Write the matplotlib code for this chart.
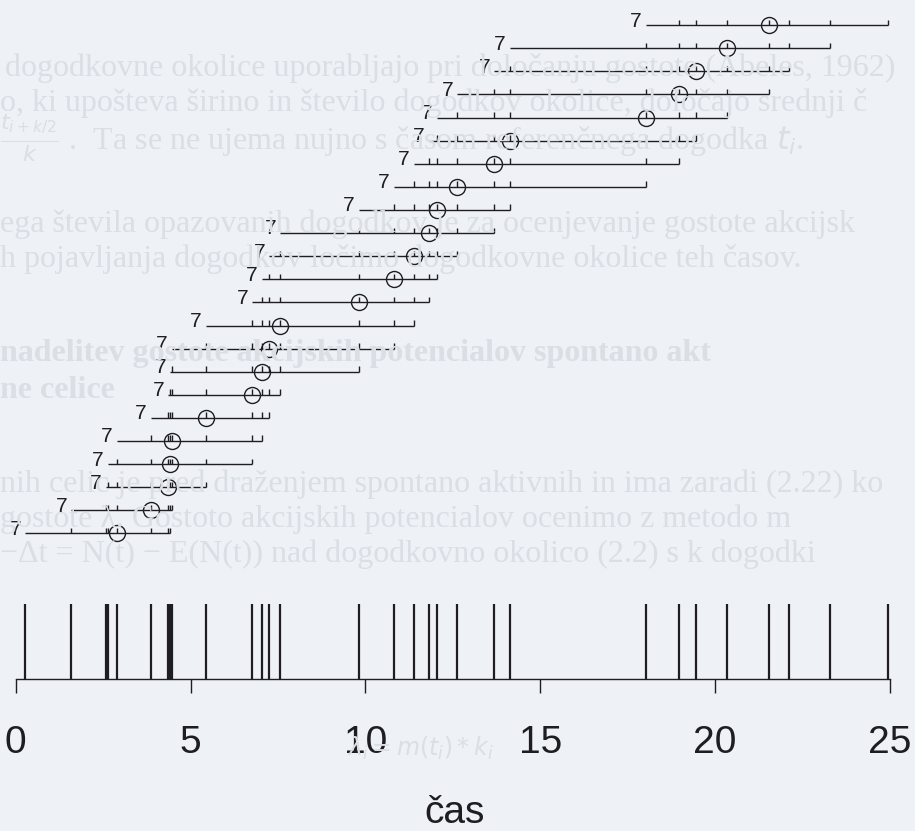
import matplotlib
matplotlib.use("Agg")
import matplotlib.pyplot as plt
import numpy as np

# spike times (s) and size of the event neighbourhood
cas = np.array([0.27, 1.59, 2.58, 2.63, 2.89, 3.87, 4.36, 4.42, 4.47, 5.44,
                6.77, 7.03, 7.25, 7.57, 9.82, 10.81, 11.39, 11.82, 12.04, 12.63,
                13.69, 14.14, 18.03, 18.96, 19.46, 20.34, 21.55, 22.13, 23.30, 24.95])
k = 7
x_ticks = [0, 5, 10, 15, 20, 25]

# faint page text that shows through the scan
ozadje = [
    (5, 68, "dogodkovne okolice uporabljajo pri določanju gostote (Abeles, 1962)", "normal"),
    (0, 103, "o, ki upošteva širino in število dogodkov okolice, določajo srednji č", "normal"),
    (0, 138, "$\\frac{t_{i+k/2}}{k}$ .  Ta se ne ujema nujno s časom referenčnega dogodka $t_i$.", "normal"),
    (0, 224, "ega števila opazovanih dogodkov je za ocenjevanje gostote akcijsk", "normal"),
    (0, 259, "h pojavljanja dogodkov ločimo dogodkovne okolice teh časov.", "normal"),
    (0, 353, "nadelitev gostote akcijskih potencialov spontano akt", "bold"),
    (0, 390, "ne celice", "bold"),
    (0, 484, "nih celic je pred draženjem spontano aktivnih in ima zaradi (2.22) ko", "normal"),
    (0, 519, "gostote λ. Gostoto akcijskih potencialov ocenimo z metodo m", "normal"),
    (0, 554, "−Δt = N(t) − E(N(t)) nad dogodkovno okolico (2.2) s k dogodki", "normal"),
]

bg = "#eef1f6"
ink = "#1e1e22"
ghost = "#dadee5"

W, H = 915, 831
fig = plt.figure(figsize=(W / 100, H / 100), dpi=100)
fig.patch.set_facecolor(bg)
ax = fig.add_axes([0, 0, 1, 1])
ax.set_facecolor(bg)
ax.set_xlim(-0.4505, 25.722)
ax.set_ylim(-8.88, 27.09)

for px, py, s, w in ozadje:
    fig.text(px / W, 1 - py / H, s, color=ghost, fontsize=23, fontweight=w,
             family="Liberation Serif", va="center", ha="left", zorder=0)
fig.text(420 / W, 1 - 748 / H, "$\\lambda_i = m(t_i) * k_i$", color=ghost,
         fontsize=17, va="center", ha="center", zorder=0)

# rug of all events sitting on the time axis
y_os = -2.31
ax.vlines(cas, y_os, 0.95, color=ink, lw=1.6)

# one row per event: neighbourhood of k events, circle on the reference event
lo, hi = (k + 1) // 2, k // 2
for i in range(lo, len(cas) - hi):
    ax.hlines(i, cas[i - lo], cas[i + hi], color=ink, lw=1.0)
    ax.vlines(cas[i - lo + 1:i + hi + 1], i, i + 0.24, color=ink, lw=1.0)
    ax.plot(cas[i], i, "o", mfc="none", mec=ink, ms=11.5, mew=1.0)
    ax.annotate(str(k), (cas[i - lo], i), xytext=(-3, -1), textcoords="offset points",
                ha="right", va="baseline", fontsize=15, color=ink,
                family="Liberation Sans")

for s in ["left", "right", "top"]:
    ax.spines[s].set_visible(False)
ax.spines["bottom"].set_position(("data", y_os))
ax.spines["bottom"].set_bounds(0, 25)
ax.spines["bottom"].set_color(ink)
ax.spines["bottom"].set_linewidth(1.0)
ax.set_yticks([])
ax.set_xticks(x_ticks)
ax.set_xticklabels([str(v) for v in x_ticks], family="Liberation Sans")
ax.tick_params(axis="x", direction="out", length=10, width=1.0, pad=23,
               labelsize=28, colors=ink)

ax.text(12.54, -8.10, "čas", ha="center", va="center", fontsize=28,
        color=ink, family="Liberation Sans")

fig.savefig("out.png", dpi=100, facecolor=bg)
